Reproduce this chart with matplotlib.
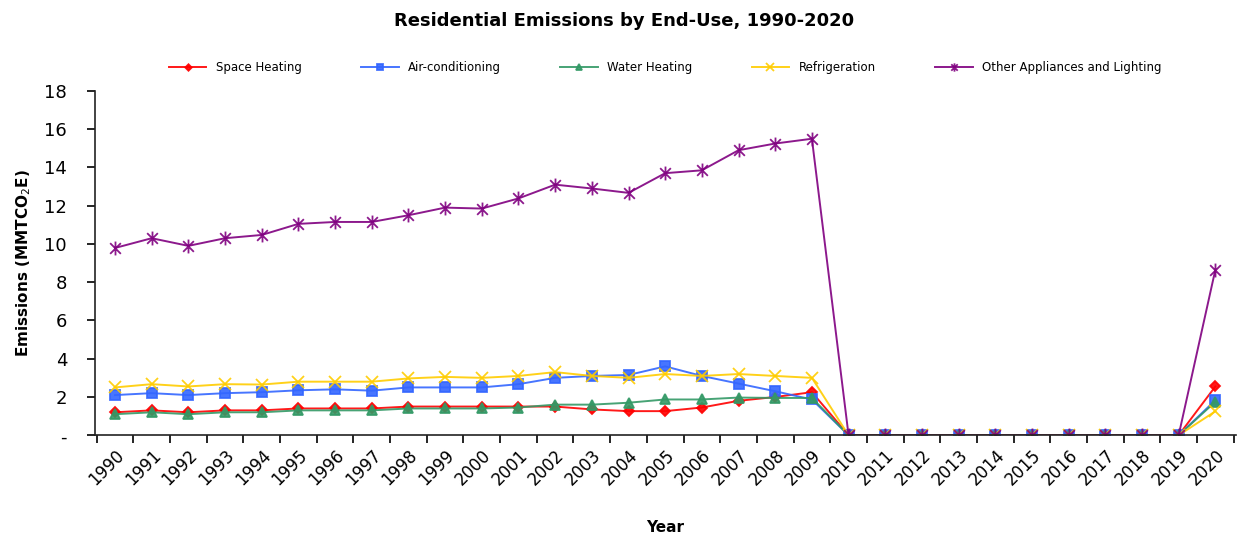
import matplotlib
matplotlib.use("Agg")
import matplotlib.pyplot as plt
from matplotlib.path import Path
from matplotlib.ticker import FixedLocator, FuncFormatter

years = list(range(1990, 2021))

space_heating = [1.2, 1.3, 1.2, 1.3, 1.3, 1.4, 1.4, 1.4, 1.5, 1.5,
                 1.5, 1.5, 1.5, 1.35, 1.26, 1.26, 1.45, 1.8, 2.0, 2.25,
                 0, 0, 0, 0, 0, 0, 0, 0, 0, 0, 2.55]
air_conditioning = [2.1, 2.2, 2.1, 2.2, 2.25, 2.35, 2.4, 2.33, 2.5, 2.5,
                    2.5, 2.67, 3.0, 3.1, 3.15, 3.6, 3.1, 2.7, 2.3, 1.87,
                    0, 0, 0, 0, 0, 0, 0, 0, 0, 0, 1.83]
water_heating = [1.1, 1.2, 1.1, 1.2, 1.2, 1.3, 1.3, 1.3, 1.4, 1.4,
                 1.4, 1.45, 1.6, 1.6, 1.7, 1.87, 1.87, 1.97, 1.95, 1.95,
                 0, 0, 0, 0, 0, 0, 0, 0, 0, 0, 1.75]
refrigeration = [2.5, 2.67, 2.55, 2.67, 2.65, 2.8, 2.8, 2.8, 2.97, 3.05,
                 3.0, 3.1, 3.3, 3.1, 3.0, 3.2, 3.1, 3.2, 3.1, 3.0,
                 0, 0, 0, 0, 0, 0, 0, 0, 0, 0, 1.25]
other_appliances = [9.79, 10.3, 9.9, 10.3, 10.47, 11.05, 11.15, 11.15, 11.5, 11.9,
                    11.85, 12.38, 13.1, 12.9, 12.67, 13.7, 13.85, 14.9, 15.25, 15.5,
                    0, 0, 0, 0, 0, 0, 0, 0, 0, 0, 8.65]

labels = ["Space Heating", "Air-conditioning", "Water Heating",
          "Refrigeration", "Other Appliances and Lighting"]
y_ticks = [0, 2, 4, 6, 8, 10, 12, 14, 16, 18]

# six-armed asterisk marker (an x with a vertical stroke)
star = Path([(-1, -1), (1, 1), (-1, 1), (1, -1), (0, -1.3), (0, 1.3)],
            [Path.MOVETO, Path.LINETO, Path.MOVETO, Path.LINETO,
             Path.MOVETO, Path.LINETO])

series = [
    (space_heating, "#FF0000", "D", 5.5),
    (air_conditioning, "#3366FF", "s", 7.5),
    (water_heating, "#339966", "^", 7.5),
    (refrigeration, "#FFCC00", "x", 8.5),
    (other_appliances, "#800080", star, 10),
]

fig = plt.figure(figsize=(12.48, 5.38), dpi=100)
ax = fig.add_axes([0.076, 0.191, 0.914, 0.640])

x = list(range(len(years)))
handles = []
for (vals, color, marker, ms), label in zip(series, labels):
    h, = ax.plot(x, vals, color=color, lw=1.4, marker=marker, markersize=ms,
                 markerfacecolor=color, markeredgecolor=color,
                 markeredgewidth=1.3, label=label, alpha=0.9)
    handles.append(h)

ax.set_xlim(-0.55, len(years) - 0.45)
ax.set_ylim(0, 18)
ax.set_yticks(y_ticks)
ax.yaxis.set_major_formatter(FuncFormatter(lambda v, p: "-" if v == 0 else f"{int(v)}"))

ax.set_xticks(x)
ax.set_xticklabels([str(y) for y in years], rotation=45, ha="right",
                   rotation_mode="anchor", fontsize=12)
ax.xaxis.set_minor_locator(FixedLocator([i - 0.5 for i in range(len(years) + 1)]))
ax.tick_params(axis="x", which="major", length=0, pad=8)
ax.tick_params(axis="x", which="minor", length=6, width=1.2, direction="out")
ax.tick_params(axis="y", length=6, width=1.2, labelsize=13, pad=14)

for s in ("top", "right"):
    ax.spines[s].set_visible(False)
for s in ("left", "bottom"):
    ax.spines[s].set_linewidth(1.2)
    ax.spines[s].set_color("#222222")

ax.set_xlabel("Year", fontsize=11, fontweight="bold", labelpad=22)
ax.set_ylabel("Emissions (MMTCO$_2$E)", fontsize=11, fontweight="bold", labelpad=8)

fig.suptitle("Residential Emissions by End-Use, 1990-2020", fontsize=13,
             fontweight="bold", y=0.978)

fig.legend(handles=handles, labels=labels, loc="center", ncol=5,
           bbox_to_anchor=(0.533, 0.874), frameon=False, fontsize=8.5,
           markerscale=0.6, handlelength=3.2, columnspacing=5.0)

fig.savefig("out.png", dpi=100)
